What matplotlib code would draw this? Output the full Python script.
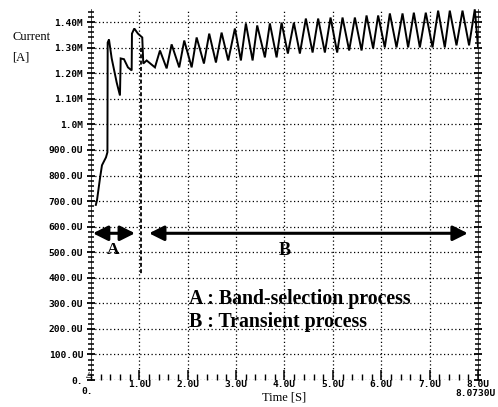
import numpy as np
import matplotlib
matplotlib.use("Agg")
import matplotlib.pyplot as plt
from matplotlib.ticker import MultipleLocator

# data (time in us, current in "U" units, 1.0M = 1000U) ==========================
t_start = [0.10, 0.124, 0.186, 0.227, 0.31, 0.34, 0.345, 0.372, 0.428, 0.531, 0.599,
           0.614, 0.682, 0.764, 0.841, 0.847, 0.895, 0.971, 1.060, 1.081, 1.151]
i_start = [685, 703, 789, 840, 871, 891, 1320, 1332, 1258, 1164, 1113,
           1258, 1255, 1223, 1211, 1355, 1375, 1355, 1340, 1238, 1250]

t_trough = [1.322, 1.564, 1.824, 2.081, 2.335, 2.583, 2.837, 3.099, 3.341, 3.595,
            3.837, 4.070, 4.318, 4.581, 4.835, 5.089, 5.337, 5.593, 5.833, 6.074,
            6.316, 6.556, 6.798, 7.060, 7.314, 7.556, 7.816, 8.0]
i_trough = [1223, 1219, 1223, 1223, 1238, 1242, 1250, 1250, 1250, 1262,
            1262, 1277, 1277, 1281, 1281, 1281, 1289, 1289, 1297, 1301,
            1301, 1301, 1301, 1301, 1301, 1309, 1309, 1305]

t_peak = [1.426, 1.667, 1.928, 2.184, 2.444, 2.700, 2.975, 3.202, 3.436, 3.698,
          3.940, 4.194, 4.442, 4.696, 4.952, 5.200, 5.455, 5.696, 5.936, 6.178,
          6.440, 6.674, 6.921, 7.176, 7.417, 7.680, 7.934]
i_peak = [1289, 1313, 1328, 1340, 1355, 1359, 1375, 1395, 1387, 1395,
          1398, 1398, 1414, 1414, 1418, 1418, 1418, 1426, 1426, 1434,
          1434, 1437, 1437, 1445, 1445, 1445, 1450]

# narrow dip drawn dashed just after 1us
t_dip = [1.04, 1.04]
i_dip = [1300, 410]

y_ticks = [0, 100, 200, 300, 400, 500, 600, 700, 800, 900, 1000, 1100, 1200, 1300, 1400]
y_labels = ["0.", "100.0U", "200.0U", "300.0U", "400.0U", "500.0U", "600.0U", "700.0U",
            "800.0U", "900.0U", "1.0M", "1.10M", "1.20M", "1.30M", "1.40M"]
x_ticks = [1, 2, 3, 4, 5, 6, 7, 8]
x_labels = ["1.0U", "2.0U", "3.0U", "4.0U", "5.0U", "6.0U", "7.0U", "8.0U"]

# build the curve ================================================================
t_osc = np.array(t_trough + t_peak)
i_osc = np.array(i_trough + i_peak)
order = np.argsort(t_osc)
t_all = np.concatenate([t_start, t_osc[order]])
i_all = np.concatenate([i_start, i_osc[order]])

# figure ===========================================================================
fig = plt.figure(figsize=(4.98, 4.07), dpi=100)
ax = fig.add_axes([0.1827, 0.0663, 0.7771, 0.912])
ax.set_xlim(0, 8.0)
ax.set_ylim(0, 1452)

ax.plot(t_all, i_all, color="black", lw=1.4, solid_joinstyle="miter")
ax.plot(t_dip, i_dip, color="black", lw=1.3, linestyle=(0, (2.2, 1.3)))

# grid / ticks
ax.set_xticks(x_ticks)
ax.set_xticklabels(x_labels)
ax.set_yticks(y_ticks)
ax.set_yticklabels(y_labels)
ax.xaxis.set_minor_locator(MultipleLocator(0.2))
ax.yaxis.set_minor_locator(MultipleLocator(20))
ax.grid(True, which="major", color="black", linestyle=(0, (1, 2)), lw=0.9)

mono = {"family": "DejaVu Sans Mono", "weight": "bold", "size": 6.8}
for lab in ax.get_xticklabels() + ax.get_yticklabels():
    lab.set_fontproperties(mono)

ax.tick_params(axis="y", which="major", direction="inout", length=6, width=1.3,
               pad=2.5, right=True)
ax.tick_params(axis="y", which="minor", direction="inout", length=4, width=1.1, right=True)
ax.tick_params(axis="x", which="major", direction="in", length=7, width=1.1, pad=0.3)
ax.tick_params(axis="x", which="minor", direction="in", length=4, width=1.0)

for s in ["top", "bottom"]:
    ax.spines[s].set_visible(False)
ax.spines["left"].set_linewidth(0.5)
ax.spines["right"].set_linewidth(0.5)

# origin marker and extra axis texts
ax.annotate("\u25b3", xy=(0, 0), xytext=(-1, 1), textcoords="offset points",
            ha="center", va="bottom", fontsize=6, annotation_clip=False)
fig.text(87 / 498, 1 - 391 / 407, "0.", ha="center", va="center", **mono)
fig.text(496 / 498, 1 - 394 / 407, "8.0730U", ha="right", va="center", **mono)

serif = "Liberation Serif"
fig.text(12 / 498, 1 - 37 / 407, "Current", ha="left", va="center", family=serif, fontsize=9)
fig.text(12 / 498, 1 - 57 / 407, "[A]", ha="left", va="center", family=serif, fontsize=9)
ax.set_xlabel("Time [S]", family=serif, fontsize=9, labelpad=1.5)

# annotations ======================================================================
arrow = dict(arrowstyle="<|-|>,head_length=0.9,head_width=0.45", color="black",
             lw=2.2, shrinkA=0, shrinkB=0)
ax.annotate("", xy=(0.04, 574), xytext=(0.91, 574), arrowprops=arrow)
ax.annotate("", xy=(1.20, 574), xytext=(7.79, 574), arrowprops=arrow)
ax.text(0.45, 508, "A", ha="center", va="center", family=serif, weight="bold", fontsize=12.5)
ax.text(4.0, 508, "B", ha="center", va="center", family=serif, weight="bold", fontsize=13)
ax.text(2.02, 316, "A : Band-selection process", ha="left", va="center",
        family=serif, weight="bold", fontsize=14.3)
ax.text(2.02, 227, "B : Transient process", ha="left", va="center",
        family=serif, weight="bold", fontsize=14.3)

fig.savefig("out.png", dpi=100)
